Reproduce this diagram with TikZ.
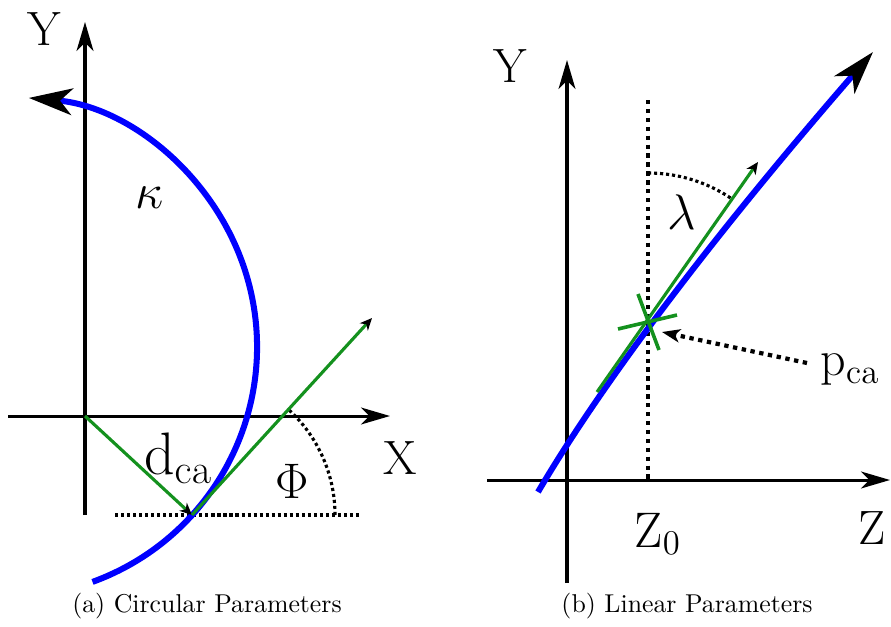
\documentclass[tikz,border=0pt]{standalone}
\usepackage{tikz}
\usetikzlibrary{arrows.meta}

\definecolor{paramgreen}{RGB}{20,145,30}

\begin{document}
\begin{tikzpicture}[x=0.415pt, y=0.415pt,
        axisline/.style={line width=1.25pt, -{Stealth[length=12pt, width=7pt, inset=3.5pt]}},
        track/.style={line width=2.5pt, draw=blue, -{Stealth[length=18pt, width=11pt, inset=5pt, black]}},
        param/.style={line width=1.3pt, draw=paramgreen, -{Stealth[length=5pt, width=4.5pt, inset=1.5pt, black]}},
        crossline/.style={line width=1.5pt, draw=paramgreen},
        guide/.style={line width=1.3pt, dash pattern=on 1.3pt off 1.2pt},
        bigguide/.style={line width=1.75pt, dash pattern=on 1.8pt off 1.9pt},
        pointer/.style={bigguide, -{Stealth[length=7.5pt, width=5.5pt, inset=2pt]}},
        sym/.style={font=\fontsize{20}{24}\selectfont, inner sep=0pt},
        subcap/.style={font=\fontsize{10.7}{13}\selectfont, inner sep=0pt}
    ]
        \useasboundingbox (0,0) rectangle (891,626);

        % (a) Circular Parameters
        \coordinate (o1) at (85,210);
        \coordinate (ybot1) at (85,111);
        \coordinate (ytop1) at (85,604);
        \coordinate (xleft1) at (8,210);
        \coordinate (xtip1) at (390,210);
        \coordinate (arcstart) at (92.5,44.1);
        \coordinate (pca1) at (192,111);
        \coordinate (tantip) at (372,308);
        \coordinate (hleft) at (115,111);
        \coordinate (hright) at (360,111);
        \coordinate (phistart) at (335,111);

        \draw[axisline] (ybot1) -- (ytop1);
        \draw[axisline] (xleft1) -- (xtip1);
        \draw[guide] (hleft) -- (hright);
        \draw[guide] (phistart) arc[start angle=0, end angle=47.4, radius=143];
        \draw[track] (arcstart) arc[start angle=-70, end angle=85, radius=250];
        \draw[param] (o1) -- (pca1);
        \draw[param] (pca1) -- (tantip);

        \node[sym] (ylab1) at (44,597) {Y};
        \node[sym] (xlab1) at (400,168) {X};
        \node[sym] (kappa) at (150,428) {$\kappa$};
        \node[sym, font=\fontsize{23}{27}\selectfont] (dca) at (178,168) {$\mathrm{d}_{\mathrm{ca}}$};
        \node[sym] (phi) at (292,145) {$\Phi$};
        \node[subcap] (capa) at (207,20) {(a) Circular Parameters};

        % (b) Linear Parameters
        \coordinate (o2) at (567,146);
        \coordinate (ybot2) at (567,43);
        \coordinate (ytop2) at (567,566);
        \coordinate (zleft) at (487,146);
        \coordinate (ztip) at (890,146);
        \coordinate (vtop) at (648,526);
        \coordinate (vbot) at (648,146);
        \coordinate (linestart) at (538,134);
        \coordinate (lineend) at (873,574);
        \coordinate (pca2) at (648,304);
        \coordinate (lamstart) at (648,453);
        \coordinate (dirstart) at (597,234);
        \coordinate (dirtip) at (758,464);
        \coordinate (crossa1) at (618,297);
        \coordinate (crossa2) at (677,311);
        \coordinate (crossb1) at (638,332);
        \coordinate (crossb2) at (659,276);
        \coordinate (pfrom) at (807,263);
        \coordinate (pto) at (662,294);

        \draw[axisline] (ybot2) -- (ytop2);
        \draw[axisline] (zleft) -- (ztip);
        \draw[bigguide] (vtop) -- (vbot);
        \draw[guide] (lamstart) arc[start angle=90, end angle=56, radius=149];
        \draw[track] (linestart) .. controls (604.3,246.7) and (716,393.3) .. (lineend);
        \draw[param] (dirstart) -- (dirtip);
        \draw[crossline] (crossa1) -- (crossa2);
        \draw[crossline] (crossb1) -- (crossb2);
        \draw[pointer] (pfrom) -- (pto);

        \node[sym] (ylab2) at (510,560) {Y};
        \node[sym, anchor=west] (zlab) at (858,98) {Z};
        \node[sym] (zzero) at (658,92) {$\mathrm{Z}_0$};
        \node[sym] (lambda) at (682,414) {$\lambda$};
        \node[sym, font=\fontsize{22}{26}\selectfont] (pcalab) at (850,256) {$\mathrm{p}_{\mathrm{ca}}$};
        \node[subcap] (capb) at (687,20) {(b) Linear Parameters};
    \end{tikzpicture}
\end{document}
